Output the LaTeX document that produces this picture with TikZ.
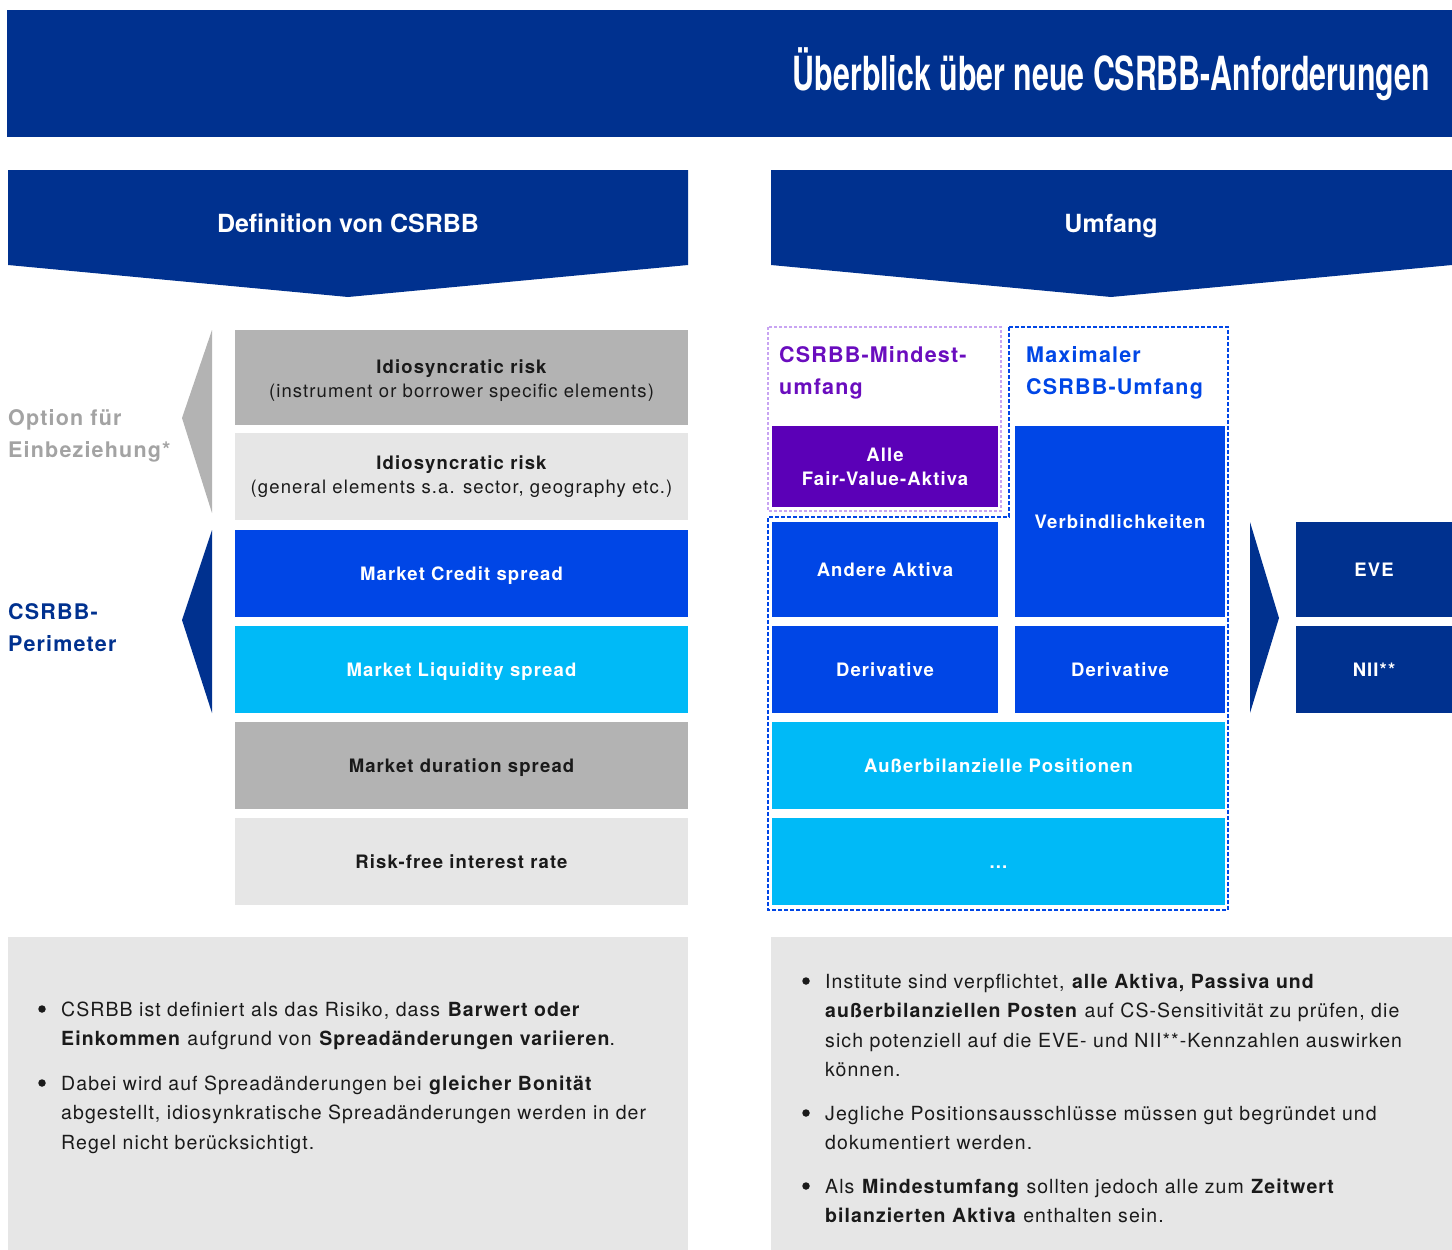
\documentclass[tikz,border=0pt]{standalone}
\usepackage{fontspec}
\setmainfont{TeX Gyre Heros}[LetterSpace=5.5]
\newfontfamily\plainfont{TeX Gyre Heros}
\newfontfamily\cellfont{TeX Gyre Heros}[LetterSpace=6]
\usepackage{graphicx}
\definecolor{dblue}{HTML}{00318F}
\definecolor{mblue}{HTML}{0046E6}
\definecolor{cyanb}{HTML}{00BAF7}
\definecolor{gmid}{HTML}{B3B3B3}
\definecolor{glight}{HTML}{E6E6E6}
\definecolor{purp}{HTML}{5B00B7}
\definecolor{purptext}{HTML}{6A0DBE}
\definecolor{lpurp}{HTML}{C8A4F2}
\definecolor{grtext}{HTML}{A3A3A3}
\definecolor{btext}{HTML}{1A1A1A}
\newcommand\cbox[7]{\node[cell,#6,minimum width={#4-#2},minimum height={#5-#3}] (#1) at ({(#2+#4)/2},{(#3+#5)/2}) {#7};}
\newcommand\tlines[1]{\begin{tabular}[t]{@{}l@{}}#1\end{tabular}}
\begin{document}
\begin{tikzpicture}[x=1pt,y=-1pt,
  cell/.style={inner sep=0pt,outer sep=0pt,align=center,font=\cellfont\bfseries\fontsize{18.5}{24}\selectfont},
  one/.style={text height=17pt,text depth=4pt},
  wtxt/.style={text=white},
  ktxt/.style={text=btext},
  hdr/.style={inner sep=0pt,anchor=base,text=white,font=\plainfont\bfseries\fontsize{25}{30}\selectfont},
  side/.style={inner sep=0pt,anchor=base west,font=\bfseries\fontsize{21.5}{32.5}\selectfont},
  body/.style={inner sep=0pt,anchor=base west,text=btext,font=\fontsize{19.5}{29.5}\selectfont},
  bul/.style={circle,fill=btext,inner sep=0pt,minimum size=7.5pt}]
\useasboundingbox (0,0) rectangle (1452,1250);
% top banner
\fill[dblue] (7,10) rectangle (1452,137);
\node[inner sep=0pt,anchor=base east,text=white] (title) at (1430,90)
  {\scalebox{0.645}[1]{\plainfont\fontsize{47}{50}\selectfont\bfseries Überblick über neue CSRBB-Anforderungen}};
% header chevrons
\fill[dblue] (8,170) -- (688,170) -- (688,265) -- (348,297) -- (8,265) -- cycle;
\node[hdr] (h1) at (348,232) {Definition von CSRBB};
\fill[dblue] (771,170) -- (1452,170) -- (1452,265) -- (1111,297) -- (771,265) -- cycle;
\node[hdr] (h2) at (1111,232) {Umfang};
% left stack
\cbox{r1}{235}{330}{688}{425}{fill=gmid}{}
\node[cell,text=btext] (r1t) at (461.5,380.5) {Idiosyncratic risk\\[0pt]\mdseries(instrument or borrower specific elements)};
\cbox{r2}{235}{433}{688}{520}{fill=glight,ktxt}{Idiosyncratic risk\\[0pt]\mdseries(general elements s.a. sector, geography etc.)}
\cbox{r3}{235}{530}{688}{617}{fill=mblue,wtxt,one}{Market Credit spread}
\cbox{r4}{235}{626}{688}{713}{fill=cyanb,wtxt,one}{Market Liquidity spread}
\cbox{r5}{235}{722}{688}{809}{fill=gmid,ktxt,one}{Market duration spread}
\cbox{r6}{235}{818}{688}{905}{fill=glight,ktxt,one}{Risk-free interest rate}
% left brackets
\fill[gmid] (212,330) -- (182,418) -- (212,513) -- cycle;
\fill[dblue] (212,530) -- (182,620) -- (212,713) -- cycle;
\node[side,text=grtext] (opt) at (8,425) {\tlines{Option für\\Einbeziehung*}};
\node[side,text=dblue] (per) at (8,619) {\tlines{CSRBB-\\Perimeter}};
% right scope
\draw[lpurp,line width=1.2pt,dash pattern=on 3pt off 2pt] (768,327) rectangle (1001,511);
\draw[mblue,line width=1.4pt,dash pattern=on 4pt off 2pt] (1009,327) -- (1228,327) -- (1228,910) -- (768,910) -- (768,517) -- (1009,517) -- cycle;
\node[side,text=purptext] (mind) at (779,362) {\tlines{CSRBB-Mindest-\\umfang}};
\node[side,text=mblue] (maxi) at (1026,362) {\tlines{Maximaler\\CSRBB-Umfang}};
\cbox{fv}{772}{426}{998}{507}{fill=purp,wtxt}{Alle\\[0pt]Fair-Value-Aktiva}
\cbox{verb}{1015}{426}{1225}{617}{fill=mblue,wtxt,one}{Verbindlichkeiten}
\cbox{and}{772}{522}{998}{617}{fill=mblue,wtxt,one}{Andere Aktiva}
\cbox{der1}{772}{626}{998}{713}{fill=mblue,wtxt,one}{Derivative}
\cbox{der2}{1015}{626}{1225}{713}{fill=mblue,wtxt,one}{Derivative}
\cbox{ausb}{772}{722}{1225}{809}{fill=cyanb,wtxt,one}{Außerbilanzielle Positionen}
\cbox{dots}{772}{818}{1225}{905}{fill=cyanb,wtxt,one}{...}
% right arrow and results
\fill[dblue] (1250,522) -- (1279,618) -- (1250,713) -- cycle;
\cbox{eve}{1296}{522}{1452}{617}{fill=dblue,wtxt,one}{EVE}
\cbox{nii}{1296}{626}{1452}{713}{fill=dblue,wtxt,one}{NII**}
% bottom panels
\fill[glight] (8,937) rectangle (688,1250);
\fill[glight] (771,937) rectangle (1452,1250);
\node[bul] (lb1) at (42,1009) {};
\node[body] (lt1) at (61,1016) {\tlines{CSRBB ist definiert als das Risiko, dass \textbf{Barwert oder}\\\textbf{Einkommen} aufgrund von \textbf{Spreadänderungen variieren}.}};
\node[bul] (lb2) at (42,1083) {};
\node[body] (lt2) at (61,1090) {\tlines{Dabei wird auf Spreadänderungen bei \textbf{gleicher Bonität}\\abgestellt, idiosynkratische Spreadänderungen werden in der\\Regel nicht berücksichtigt.}};
\node[bul] (rb1) at (806,981) {};
\node[body] (rt1) at (825,988) {\tlines{Institute sind verpflichtet, \textbf{alle Aktiva, Passiva und}\\\textbf{außerbilanziellen Posten} auf CS-Sensitivität zu prüfen, die\\sich potenziell auf die EVE- und NII**-Kennzahlen auswirken\\können.}};
\node[bul] (rb2) at (806,1113) {};
\node[body] (rt2) at (825,1120) {\tlines{Jegliche Positionsausschlüsse müssen gut begründet und\\dokumentiert werden.}};
\node[bul] (rb3) at (806,1186) {};
\node[body] (rt3) at (825,1193) {\tlines{Als \textbf{Mindestumfang} sollten jedoch alle zum \textbf{Zeitwert}\\\textbf{bilanzierten Aktiva} enthalten sein.}};
\end{tikzpicture}
\end{document}
